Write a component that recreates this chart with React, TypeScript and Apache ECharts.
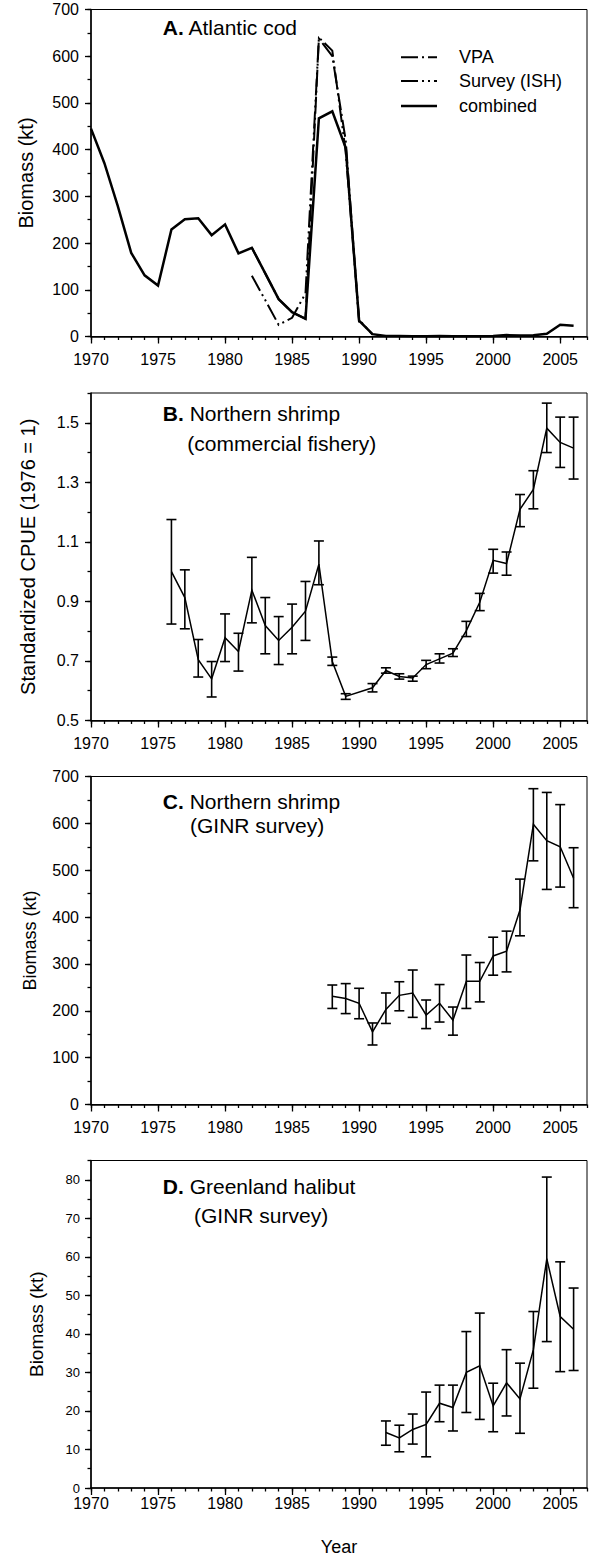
import React, { useEffect, useRef } from "react";
import * as echarts from "echarts";

const FONT = '"Liberation Sans", Arial, Helvetica, sans-serif';

// ---------- Tick values ----------
const xMajorTicks = [1970, 1975, 1980, 1985, 1990, 1995, 2000, 2005];
const yTicksA = [0, 100, 200, 300, 400, 500, 600, 700];
const yTicksB = [0.5, 0.7, 0.9, 1.1, 1.3, 1.5];
const yTicksC = [0, 100, 200, 300, 400, 500, 600, 700];
const yTicksD = [0, 10, 20, 30, 40, 50, 60, 70, 80];

// ---------- A. Atlantic cod ----------
const codYears = [
  1970, 1971, 1972, 1973, 1974, 1975, 1976, 1977, 1978, 1979,
  1980, 1981, 1982, 1983, 1984, 1985, 1986, 1987, 1988, 1989,
  1990, 1991, 1992, 1993, 1994, 1995, 1996, 1997, 1998, 1999,
  2000, 2001, 2002, 2003, 2004, 2005, 2006,
];
const codCombined = [
  445, 371, 279, 179, 131, 109, 229, 251, 253, 217,
  240, 178, 190, 135, 80, 52, 38, 467, 482, 404,
  34, 5, 1, 1, 0.5, 0.5, 1, 0.5, 0.5, 0.5,
  1, 3, 2, 2.5, 6, 25, 23,
];
const vpaYears = [1982, 1983, 1984, 1985, 1986, 1987, 1988, 1989, 1990];
const vpaValues = [190, 135, 80, 52, 38, 638, 600, 420, 30];
const surveyYears = [1982, 1983, 1984, 1985, 1986, 1987, 1988, 1989, 1990, 1991];
const surveyValues = [130, 78, 25, 40, 92, 640, 612, 395, 36, 4];

// ---------- B. Northern shrimp CPUE ----------
const cpueYears = [
  1976, 1977, 1978, 1979, 1980, 1981, 1982, 1983, 1984, 1985,
  1986, 1987, 1988, 1989, 1991, 1992, 1993, 1994, 1995, 1996,
  1997, 1998, 1999, 2000, 2001, 2002, 2003, 2004, 2005, 2006,
];
const cpueValues = [
  1.0, 0.913, 0.704, 0.64, 0.778, 0.732, 0.938, 0.819, 0.769, 0.813,
  0.867, 1.025, 0.698, 0.581, 0.61, 0.668, 0.648, 0.643, 0.688, 0.707,
  0.726, 0.802, 0.897, 1.038, 1.027, 1.209, 1.276, 1.482, 1.434, 1.415,
];
const cpueLow = [
  0.824, 0.808, 0.646, 0.579, 0.698, 0.666, 0.828, 0.724, 0.688, 0.724,
  0.769, 0.956, 0.685, 0.571, 0.596, 0.659, 0.639, 0.632, 0.674, 0.693,
  0.715, 0.782, 0.869, 0.995, 0.988, 1.151, 1.211, 1.4, 1.35, 1.311,
];
const cpueHigh = [
  1.175, 1.006, 0.772, 0.698, 0.858, 0.793, 1.048, 0.913, 0.849, 0.891,
  0.967, 1.103, 0.713, 0.59, 0.624, 0.677, 0.657, 0.649, 0.702, 0.724,
  0.741, 0.833, 0.927, 1.075, 1.066, 1.259, 1.339, 1.566, 1.519, 1.519,
];

// ---------- C. Northern shrimp GINR survey ----------
const shrimpYears = [
  1988, 1989, 1990, 1991, 1992, 1993, 1994, 1995, 1996, 1997,
  1998, 1999, 2000, 2001, 2002, 2003, 2004, 2005, 2006,
];
const shrimpValues = [
  231, 226, 216, 155, 203, 233, 238, 191, 216, 180,
  263, 263, 317, 327, 415, 598, 563, 550, 483,
];
const shrimpLow = [
  205, 194, 183, 127, 173, 200, 186, 162, 176, 148,
  205, 219, 276, 283, 360, 520, 459, 464, 420,
];
const shrimpHigh = [
  255, 258, 248, 174, 238, 262, 287, 223, 256, 208,
  319, 303, 357, 370, 481, 674, 666, 640, 548,
];

// ---------- D. Greenland halibut GINR survey ----------
const halibutYears = [
  1992, 1993, 1994, 1995, 1996, 1997, 1998, 1999, 2000, 2001,
  2002, 2003, 2004, 2005, 2006,
];
const halibutValues = [
  14.4, 13.0, 15.2, 16.5, 22.0, 20.9, 30.0, 31.7, 21.3, 27.3,
  23.1, 35.9, 59.5, 44.5, 41.2,
];
const halibutLow = [
  11.1, 9.4, 11.4, 8.1, 17.2, 14.8, 19.6, 17.8, 14.6, 18.7,
  14.2, 25.9, 38.0, 30.2, 30.5,
];
const halibutHigh = [
  17.4, 16.3, 19.2, 24.9, 26.7, 26.7, 40.6, 45.4, 27.2, 35.9,
  32.4, 45.8, 80.7, 58.7, 51.9,
];

const VPA_DASH = [17, 4, 2, 4];
const SURVEY_DASH = [17, 4, 2, 4, 2, 4];

const pairs = (xs: number[], ys: number[]) => xs.map((x, i) => [x, ys[i]]);

export default function App() {
  const ref = useRef<HTMLDivElement>(null);

  useEffect(() => {
    if (!ref.current) return;
    const chart = echarts.init(ref.current, undefined, { renderer: "svg" });

    const grids = [
      { left: 91, top: 9.5, width: 496, height: 327 },
      { left: 91, top: 393, width: 496, height: 327.5 },
      { left: 91, top: 776.5, width: 496, height: 328 },
      { left: 91, top: 1160.5, width: 496, height: 327.5 },
    ].map((g) => ({ ...g, show: true, borderColor: "#000", borderWidth: 1, backgroundColor: "transparent" }));

    const tickStyle = { color: "#000", width: 1.3 };

    const xAxes: any[] = [];
    const yAxes: any[] = [];

    const yConf = [
      { min: 0, max: 700, ticks: yTicksA, minorInterval: 50, fontSize: 16, margin: 12, name: "Biomass (kt)", nameSize: 20, nameGap: 55, fmt: (v: number) => String(v) },
      { min: 0.5, max: 1.6, ticks: yTicksB, minorInterval: 0.1, fontSize: 16, margin: 12, name: "Standardized CPUE (1976 = 1)", nameSize: 20, nameGap: 53, fmt: (v: number) => v.toFixed(1) },
      { min: 0, max: 700, ticks: yTicksC, minorInterval: 50, fontSize: 16, margin: 12, name: "Biomass (kt)", nameSize: 18, nameGap: 52, fmt: (v: number) => String(v) },
      { min: 0, max: 85, ticks: yTicksD, minorInterval: 5, fontSize: 13, margin: 11, name: "Biomass (kt)", nameSize: 19, nameGap: 45, fmt: (v: number) => String(v) },
    ];

    for (let g = 0; g < 4; g++) {
      const last = g === 3;
      xAxes.push({
        type: "value",
        gridIndex: g,
        position: "bottom",
        min: 1970,
        max: 2007,
        axisLine: { show: true, onZero: false, lineStyle: { color: "#000", width: 1.5 } },
        axisTick: { show: true, inside: false, length: 7, customValues: xMajorTicks, lineStyle: tickStyle },
        axisLabel: {
          show: true,
          customValues: xMajorTicks,
          margin: last ? 7 : 15,
          fontSize: 16,
          color: "#000",
          fontFamily: FONT,
          formatter: (v: number) => String(v),
        },
        splitLine: { show: false },
        name: last ? "Year" : "",
        nameLocation: "middle",
        nameGap: 50,
        nameTextStyle: { fontSize: 18, color: "#000", fontFamily: FONT },
      });
      xAxes.push({
        type: "value",
        gridIndex: g,
        position: "bottom",
        min: 1970,
        max: 2007,
        interval: 1,
        axisLine: { show: false },
        axisTick: { show: true, inside: false, length: 3.5, lineStyle: tickStyle },
        axisLabel: { show: false },
        splitLine: { show: false },
      });

      const c = yConf[g];
      yAxes.push({
        type: "value",
        gridIndex: g,
        position: "left",
        min: c.min,
        max: c.max,
        axisLine: { show: true, onZero: false, lineStyle: { color: "#000", width: 1.5 } },
        axisTick: { show: true, inside: false, length: 6, customValues: c.ticks, lineStyle: tickStyle },
        axisLabel: {
          show: true,
          customValues: c.ticks,
          margin: c.margin,
          fontSize: c.fontSize,
          color: "#000",
          fontFamily: FONT,
          formatter: c.fmt,
        },
        splitLine: { show: false },
        name: c.name,
        nameLocation: "middle",
        nameRotate: 90,
        nameGap: c.nameGap,
        nameTextStyle: { fontSize: c.nameSize, color: "#000", fontFamily: FONT },
      });
      yAxes.push({
        type: "value",
        gridIndex: g,
        position: "left",
        min: c.min,
        max: c.max,
        interval: c.minorInterval,
        axisLine: { show: false },
        axisTick: { show: true, inside: false, length: 3.5, lineStyle: tickStyle },
        axisLabel: { show: false },
        splitLine: { show: false },
      });
    }

    const lineSeries = (g: number, data: number[][], width: number, type: any, z: number) => ({
      type: "line",
      xAxisIndex: 2 * g,
      yAxisIndex: 2 * g,
      data,
      symbol: "none",
      showSymbol: false,
      silent: true,
      z,
      lineStyle: { color: "#000", width, type, cap: "butt", join: "miter" },
    });

    const errorBars = (g: number, xs: number[], lo: number[], hi: number[]) => ({
      type: "custom",
      xAxisIndex: 2 * g,
      yAxisIndex: 2 * g,
      silent: true,
      z: 4,
      data: xs.map((x, i) => [x, lo[i], hi[i]]),
      encode: { x: 0, y: [1, 2] },
      renderItem: (params: any, api: any) => {
        const x = api.value(0);
        const p1 = api.coord([x, api.value(1)]);
        const p2 = api.coord([x, api.value(2)]);
        const hw = 5;
        const st = { stroke: "#000", lineWidth: 1.6, fill: "none" };
        return {
          type: "group",
          children: [
            { type: "line", shape: { x1: p1[0], y1: p1[1], x2: p2[0], y2: p2[1] }, style: st },
            { type: "line", shape: { x1: p1[0] - hw, y1: p1[1], x2: p1[0] + hw, y2: p1[1] }, style: st },
            { type: "line", shape: { x1: p2[0] - hw, y1: p2[1], x2: p2[0] + hw, y2: p2[1] }, style: st },
          ],
        };
      },
    });

    const series: any[] = [
      lineSeries(0, pairs(vpaYears, vpaValues), 2, VPA_DASH, 2),
      lineSeries(0, pairs(surveyYears, surveyValues), 2, SURVEY_DASH, 2),
      lineSeries(0, pairs(codYears, codCombined), 2.5, "solid", 3),
      lineSeries(1, pairs(cpueYears, cpueValues), 1.5, "solid", 3),
      errorBars(1, cpueYears, cpueLow, cpueHigh),
      lineSeries(2, pairs(shrimpYears, shrimpValues), 1.5, "solid", 3),
      errorBars(2, shrimpYears, shrimpLow, shrimpHigh),
      lineSeries(3, pairs(halibutYears, halibutValues), 1.5, "solid", 3),
      errorBars(3, halibutYears, halibutLow, halibutHigh),
    ];

    const text = (x: number, y: number, t: string, size: number) => ({
      type: "text",
      x,
      y,
      silent: true,
      style: {
        text: t,
        fontSize: size,
        fontFamily: FONT,
        fill: "#000",
        align: "left",
        verticalAlign: "middle",
        rich: { b: { fontWeight: "bold", fontSize: size, fontFamily: FONT, fill: "#000" } },
      },
    });

    const legendLine = (y: number, dash: any, w: number) => ({
      type: "line",
      silent: true,
      shape: { x1: 401, y1: y, x2: 437, y2: y },
      style: { stroke: "#000", lineWidth: w, lineDash: dash, lineCap: "butt" },
    });

    const graphic: any[] = [
      text(162.8, 27, "{b|A.} Atlantic cod", 21),
      legendLine(57.3, VPA_DASH, 2),
      text(459, 57.3, "VPA", 18),
      legendLine(81, SURVEY_DASH, 2),
      text(459, 81, "Survey (ISH)", 18),
      legendLine(106, null, 2.5),
      text(459, 106, "combined", 18),
      text(162.8, 413.3, "{b|B.} Northern shrimp", 21),
      text(187.3, 443.3, "(commercial fishery)", 21),
      text(162.8, 801.7, "{b|C.} Northern shrimp", 21),
      text(190, 825, "(GINR survey)", 21),
      text(162.8, 1186.7, "{b|D.} Greenland halibut", 21),
      text(194, 1215, "(GINR survey)", 21),
    ];

    chart.setOption({
      animation: false,
      backgroundColor: "#fff",
      textStyle: { fontFamily: FONT },
      grid: grids,
      xAxis: xAxes,
      yAxis: yAxes,
      series,
      graphic,
    });

    return () => chart.dispose();
  }, []);

  return (
    <div
      ref={ref}
      style={{ position: "absolute", left: 0, top: 0, width: 589, height: 1557 }}
    />
  );
}
